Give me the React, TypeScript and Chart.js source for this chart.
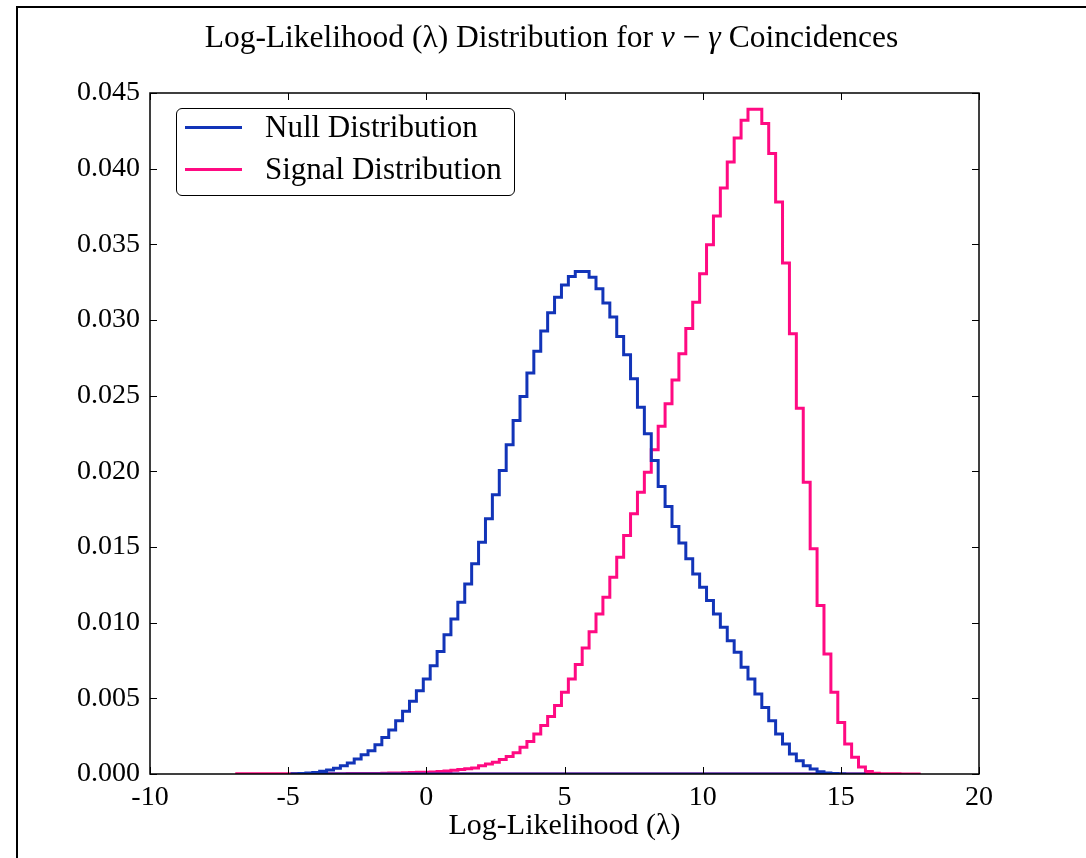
import React, { useEffect, useRef } from "react";
import { Chart, registerables } from "chart.js";

Chart.register(...registerables);

// Histogram binning (shared width, per-series first edge)
const BIN_WIDTH = 0.25;
const nullStart = -4.86;
const signalStart = -6.86;

// Normalised counts per bin for the background (null) hypothesis
const nullDensity = [
  0.00002, 0.00004, 0.00007, 0.0001, 0.00018, 0.00027, 0.00038, 0.00055, 0.00073, 0.00099,
  0.00128, 0.00154, 0.00194, 0.00242, 0.0029, 0.00352, 0.00414, 0.0048, 0.0055, 0.00628,
  0.00716, 0.0081, 0.0092, 0.01025, 0.01135, 0.01256, 0.01389, 0.01532, 0.01686, 0.01845,
  0.02005, 0.02175, 0.02336, 0.02495, 0.02649, 0.02794, 0.02927, 0.03048, 0.03151, 0.03231,
  0.03287, 0.03321, 0.03321, 0.03283, 0.03207, 0.03112, 0.03019, 0.02891, 0.0277, 0.02612,
  0.02424, 0.02248, 0.02072, 0.019, 0.01768, 0.01636, 0.01526, 0.01422, 0.01322, 0.01234,
  0.01146, 0.01058, 0.00969, 0.00881, 0.00804, 0.00705, 0.00628, 0.00529, 0.0044, 0.00352,
  0.00264, 0.00198, 0.00132, 0.00088, 0.00055, 0.00033, 0.00015, 0.00007, 0.00003, 0.00001,
  0, 0, 0,
];

// Normalised counts per bin for the signal hypothesis
const signalDensity = [
  0.00001, 0.00001, 0.00001, 0.00001, 0.00001, 0.00001, 0.00001, 0.00001, 0.00001, 0.00001,
  0.00001, 0.00001, 0.00002, 0.00002, 0.00002, 0.00002, 0.00003, 0.00003, 0.00003, 0.00004,
  0.00004, 0.00005, 0.00006, 0.00007, 0.00008, 0.0001, 0.00011, 0.00012, 0.00014, 0.00016,
  0.0002, 0.00024, 0.00029, 0.00034, 0.0004, 0.00055, 0.00066, 0.00077, 0.00095, 0.00115,
  0.0014, 0.00177, 0.00214, 0.00265, 0.0032, 0.0038, 0.00453, 0.0054, 0.00628, 0.00723,
  0.00833, 0.0094, 0.01058, 0.01168, 0.013, 0.01432, 0.01576, 0.01719, 0.01862, 0.01994,
  0.02143, 0.02298, 0.02446, 0.02603, 0.02777, 0.02944, 0.03118, 0.03306, 0.03498, 0.03687,
  0.03872, 0.04044, 0.04203, 0.0432, 0.04392, 0.04392, 0.04298, 0.041, 0.0378, 0.03376,
  0.02909, 0.02417, 0.01928, 0.01488, 0.01113, 0.00793, 0.0054, 0.00341, 0.00198, 0.0011,
  0.00046, 0.00016, 0.00005, 0.00002, 0.00001, 0.00001, 0, 0, 0,
];

const xTicks = [-10, -5, 0, 5, 10, 15, 20];
const yTicks = [0, 0.005, 0.01, 0.015, 0.02, 0.025, 0.03, 0.035, 0.04, 0.045];

const seriesLabels = ["Null Distribution", "Signal Distribution"];
const seriesColors = ["#1234b8", "#ff0a82"];

const FONT = "'Liberation Serif', 'Times New Roman', serif";

// Closed step outline of a histogram: up from the first edge, across each bin,
// down at the last edge and back along the baseline.
function stepOutline(start: number, width: number, heights: number[]) {
  const pts: { x: number; y: number }[] = [{ x: start, y: 0 }];
  heights.forEach((h, i) => pts.push({ x: start + i * width, y: h }));
  const end = start + heights.length * width;
  pts.push({ x: end, y: 0 });
  pts.push({ x: start, y: 0 });
  return pts;
}

// Axes box with inward tick marks on all four sides
const frameTicks = {
  id: "frameTicks",
  afterDatasetsDraw(chart: any) {
    const { ctx, chartArea, scales } = chart;
    const { left, right, top, bottom } = chartArea;
    const tick = 7;
    ctx.save();
    ctx.strokeStyle = "#000";
    ctx.lineWidth = 1;
    ctx.beginPath();
    xTicks.forEach((v) => {
      const px = Math.round(scales.x.getPixelForValue(v)) + 0.5;
      ctx.moveTo(px, bottom);
      ctx.lineTo(px, bottom - tick);
      ctx.moveTo(px, top);
      ctx.lineTo(px, top + tick);
    });
    yTicks.forEach((v) => {
      const py = Math.round(scales.y.getPixelForValue(v)) + 0.5;
      ctx.moveTo(left, py);
      ctx.lineTo(left + tick, py);
      ctx.moveTo(right, py);
      ctx.lineTo(right - tick, py);
    });
    ctx.stroke();
    ctx.lineWidth = 1.5;
    ctx.strokeRect(left, top, right - left, bottom - top);
    ctx.restore();
  },
};

export default function App() {
  const canvasRef = useRef<HTMLCanvasElement | null>(null);

  useEffect(() => {
    const canvas = canvasRef.current;
    if (!canvas) return;
    const chart = new Chart(canvas, {
      type: "line",
      data: {
        datasets: [
          {
            label: seriesLabels[0],
            data: stepOutline(nullStart, BIN_WIDTH, nullDensity),
            borderColor: seriesColors[0],
          },
          {
            label: seriesLabels[1],
            data: stepOutline(signalStart, BIN_WIDTH, signalDensity),
            borderColor: seriesColors[1],
          },
        ].map((d) => ({
          ...d,
          stepped: true,
          borderWidth: 3,
          pointRadius: 0,
          fill: false,
          tension: 0,
          borderJoinStyle: "miter" as const,
          borderCapStyle: "butt" as const,
        })),
      },
      options: {
        animation: false,
        responsive: false,
        devicePixelRatio: 1,
        events: [],
        layout: { padding: { top: 93, right: 107, bottom: 0, left: 0 } },
        plugins: {
          legend: { display: false },
          title: { display: false },
          tooltip: { enabled: false },
        },
        scales: {
          x: {
            type: "linear",
            min: -10,
            max: 20,
            grid: { display: false },
            border: { display: false },
            afterBuildTicks: (s: any) => {
              s.ticks = xTicks.map((v) => ({ value: v }));
            },
            afterFit: (s: any) => {
              s.height = 84;
            },
            ticks: {
              color: "#000",
              padding: -1,
              maxRotation: 0,
              font: { family: FONT, size: 28 },
              callback: (v: any) => String(v),
            },
            title: {
              display: true,
              text: "Log-Likelihood (λ)",
              color: "#000",
              font: { family: FONT, size: 30 },
              padding: { top: 0, bottom: 14 },
            },
          },
          y: {
            type: "linear",
            min: 0,
            max: 0.045,
            grid: { display: false },
            border: { display: false },
            afterBuildTicks: (s: any) => {
              s.ticks = yTicks.map((v) => ({ value: v }));
            },
            afterFit: (s: any) => {
              s.width = 150;
            },
            ticks: {
              color: "#000",
              padding: 2,
              font: { family: FONT, size: 28 },
              callback: (v: any) => Number(v).toFixed(3),
            },
          },
        },
      },
      plugins: [frameTicks],
    });
    return () => chart.destroy();
  }, []);

  return (
    <div
      style={{
        position: "fixed",
        left: 0,
        top: 0,
        width: 1086,
        height: 858,
        overflow: "hidden",
        background: "#fff",
        fontFamily: FONT,
        color: "#000",
      }}
    >
      <div
        style={{
          position: "absolute",
          left: 16,
          top: 6,
          right: -20,
          bottom: -20,
          borderLeft: "2px solid #000",
          borderTop: "2px solid #000",
        }}
      />
      <canvas
        ref={canvasRef}
        width={1086}
        height={858}
        style={{ position: "absolute", left: 0, top: 0, width: 1086, height: 858 }}
      />
      <div
        style={{
          position: "absolute",
          left: 0,
          width: 1103,
          top: 21,
          textAlign: "center",
          fontSize: 31.5,
          lineHeight: "31px",
          whiteSpace: "nowrap",
        }}
      >
        Log-Likelihood (λ) Distribution for <i>ν</i> − <i>γ</i> Coincidences
      </div>
      <div
        style={{
          position: "absolute",
          left: 176,
          top: 108,
          width: 339,
          height: 88,
          boxSizing: "border-box",
          border: "1.5px solid #000",
          borderRadius: 6,
          background: "#fff",
        }}
      >
        {seriesLabels.map((label, i) => (
          <div key={label}>
            <div
              style={{
                position: "absolute",
                left: 8,
                top: 17 + i * 42,
                width: 57,
                height: 3,
                background: seriesColors[i],
              }}
            />
            <div
              style={{
                position: "absolute",
                left: 88,
                top: 3 + i * 42,
                fontSize: 31,
                lineHeight: "30px",
                whiteSpace: "nowrap",
              }}
            >
              {label}
            </div>
          </div>
        ))}
      </div>
    </div>
  );
}
